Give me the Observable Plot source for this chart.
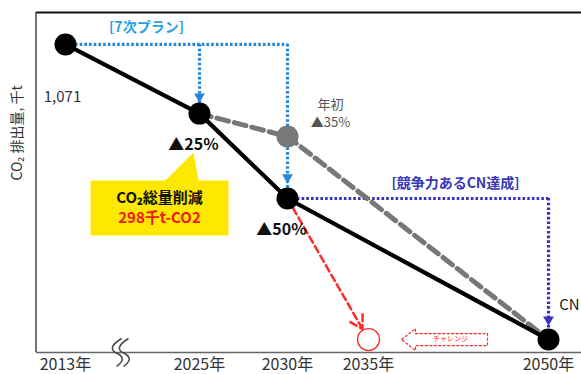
<!DOCTYPE html>
<html>
<head>
<meta charset="utf-8">
<script src="https://cdn.jsdelivr.net/npm/d3@7"></script>
<script src="https://cdn.jsdelivr.net/npm/@observablehq/plot@0.6"></script>
<style>
  html, body { margin: 0; padding: 0; background: #fff; }
  #chart svg { display: block; }
</style>
</head>
<body>
<div id="chart"></div>
<script>
// ---- data ----
const tickYears = [2013, 2025, 2030, 2035, 2050];
const tickLabels = ["2013年", "2025年", "2030年", "2035年", "2050年"];
const planYears = [2013, 2025, 2030, 2050];
const planValues = [1071, 820, 512, 0];          // 千t-CO2
const planLabels = ["1,071", "▲25%", "▲50%", "CN"];
const earlyYears = [2025, 2030, 2050];
const earlyValues = [820, 737, 0];               // 年初 path (▲35%)
const challengeYear = 2035;
const challengeValue = 0;
const yLabel = "CO₂ 排出量, 千t";
const calloutLines = ["CO₂総量削減", "298千t-CO2"];
const planBracket = "[7次プラン]";
const cnBracket = "[競争力あるCN達成]";
const challengeText = "チャレンジ";

// ---- helpers ----
const font = "'Noto Sans CJK JP', 'Noto Sans', sans-serif";
const plan = planYears.map((x, i) => ({x, y: planValues[i], label: planLabels[i]}));
const early = earlyYears.map((x, i) => ({x, y: earlyValues[i]}));
const p2013 = plan[0], p2025 = plan[1], p2030 = plan[2], p2050 = plan[3];
const gray2030 = early[1];
const yMin = -47, yMax = 1187;

const blue = "#2386d8", navy = "#3a32b8", red = "#ff2b2b", grayc = "#777777";
const dots = "2.6,2.1";

// callout symbol (yellow speech box), drawn relative to the 2025 point
const calloutSymbol = {
  draw(ctx) {
    ctx.moveTo(-109, 67);
    ctx.lineTo(-34, 67);
    ctx.lineTo(-6, 39);
    ctx.lineTo(-1, 67);
    ctx.lineTo(29, 67);
    ctx.lineTo(29, 122);
    ctx.lineTo(-109, 122);
    ctx.closePath();
  }
};
// left-pointing hollow arrow
const leftArrowSymbol = {
  draw(ctx) {
    ctx.moveTo(-43, 0);
    ctx.lineTo(-29, -11);
    ctx.lineTo(-29, -6);
    ctx.lineTo(43, -6);
    ctx.lineTo(43, 6);
    ctx.lineTo(-29, 6);
    ctx.lineTo(-29, 11);
    ctx.closePath();
  }
};
// axis break mark
const breakSymbol = {
  draw(ctx) {
    for (const o of [0, 7]) {
      ctx.moveTo(o + 4, -14);
      ctx.quadraticCurveTo(o - 12, -4, o, 1);
      ctx.quadraticCurveTo(o + 10, 6, o - 1, 14);
    }
  }
};

const leftLine = (index, scales, values, dims) => {
  const g = d3.create("svg:line")
    .attr("x1", dims.marginLeft).attr("x2", dims.marginLeft)
    .attr("y1", dims.marginTop).attr("y2", dims.height - dims.marginBottom)
    .attr("stroke", "#444").attr("stroke-width", 1.5);
  return g.node();
};

const chart = Plot.plot({
  width: 581,
  height: 374,
  marginLeft: 36,
  marginRight: 0,
  marginTop: 12,
  marginBottom: 22,
  style: {fontFamily: font, background: "#fff", color: "#333"},
  x: {type: "linear", domain: tickYears, range: [65, 199, 287, 368, 548]},
  y: {domain: [yMin, yMax], axis: null},
  marks: [
    // frame
    Plot.ruleY([yMax], {stroke: "#111", strokeWidth: 2}),
    Plot.ruleY([yMin], {stroke: "#666", strokeWidth: 1.5}),
    leftLine,
    Plot.axisX({ticks: tickYears, tickFormat: (d) => tickLabels[tickYears.indexOf(d)], tickSize: 0, tickPadding: 6, fontSize: 16, label: null}),
    Plot.dot([{x: tickYears[0], y: yMin}], {x: "x", y: "y", dx: 52, symbol: breakSymbol, r: 5, stroke: "#444", strokeWidth: 1.5, fill: "none"}),
    Plot.text([yLabel], {frameAnchor: "left", rotate: -90, dx: -19, dy: -2, fontSize: 14, fill: "#333"}),

    // [7次プラン] dotted guides
    Plot.line([p2013, {x: p2030.x, y: p2013.y}], {x: "x", y: "y", stroke: blue, strokeWidth: 3.2, strokeDasharray: dots, strokeLinecap: "butt"}),
    Plot.ruleX([p2025, p2030], {x: "x", y1: p2013.y, y2: "y", stroke: blue, strokeWidth: 3.2, strokeDasharray: dots}),
    Plot.dot([p2025], {x: "x", y: "y", dy: -17, symbol: "triangle", rotate: 180, r: 4, fill: blue}),
    Plot.dot([p2030], {x: "x", y: "y", dy: -21, symbol: "triangle", rotate: 180, r: 4, fill: blue}),
    Plot.text([p2013], {x: "x", y: "y", text: () => planBracket, dx: 81, dy: -17, fontSize: 14, fontWeight: "bold", fill: "#29a2e2"}),

    // [競争力あるCN達成] dotted guides
    Plot.line([p2030, {x: p2050.x, y: p2030.y}], {x: "x", y: "y", stroke: navy, strokeWidth: 3.2, strokeDasharray: dots, strokeLinecap: "butt"}),
    Plot.ruleX([p2050], {x: "x", y1: p2030.y, y2: "y", stroke: navy, strokeWidth: 3.2, strokeDasharray: dots}),
    Plot.dot([p2050], {x: "x", y: "y", dy: -20, symbol: "triangle", rotate: 180, r: 4, fill: navy}),
    Plot.text([p2030], {x: "x", y: "y", text: () => cnBracket, dx: 168, dy: -15, fontSize: 14, fontWeight: "bold", fill: "#3838b8"}),

    // 年初 gray dashed path
    Plot.line(early, {x: "x", y: "y", stroke: grayc, strokeWidth: 5, strokeDasharray: "12,6"}),
    Plot.dot([gray2030], {x: "x", y: "y", r: 11, fill: "#787878"}),
    Plot.text([gray2030], {x: "x", y: "y", text: () => "年初", dx: 43, dy: -32, fontSize: 13, fill: "#555"}),
    Plot.text([gray2030], {x: "x", y: "y", text: () => "▲35%", dx: 43, dy: -14, fontSize: 13, fill: "#555"}),

    // main plan line
    Plot.line(plan, {x: "x", y: "y", stroke: "#000", strokeWidth: 4.2}),

    // challenge (red)
    Plot.arrow([{x1: p2030.x, y1: p2030.y, x2: challengeYear, y2: challengeValue}], {x1: "x1", y1: "y1", x2: "x2", y2: "y2", stroke: red, strokeWidth: 2.5, strokeDasharray: "7,4", insetEnd: 12, headLength: 9}),
    Plot.dot([{x: challengeYear, y: challengeValue}], {x: "x", y: "y", r: 11, stroke: red, strokeWidth: 1.3, fill: "#fff"}),
    Plot.dot([{x: challengeYear, y: challengeValue}], {x: "x", y: "y", dx: 76, symbol: leftArrowSymbol, r: 5, stroke: red, strokeWidth: 1.2, strokeDasharray: "3,1.5", fill: "#fff"}),
    Plot.text([{x: challengeYear, y: challengeValue}], {x: "x", y: "y", text: () => challengeText, dx: 82, dy: -1, fontSize: 7, fill: red}),

    Plot.dot(plan, {x: "x", y: "y", r: 11, fill: "#000"}),

    // point labels
    Plot.text([p2013], {x: "x", y: "y", text: "label", dx: -3, dy: 53, fontSize: 15, fill: "#333"}),
    Plot.text([p2025, p2030], {x: "x", y: "y", text: "label", dx: -6, dy: 31, fontSize: 16, fontWeight: "bold", fill: "#111"}),
    Plot.text([p2050], {x: "x", y: "y", text: "label", dx: 21, dy: -34, fontSize: 15, fill: "#222"}),

    // callout
    Plot.dot([p2025], {x: "x", y: "y", symbol: calloutSymbol, r: 5, fill: "#ffe800", stroke: "none"}),
    Plot.text([p2025], {x: "x", y: "y", text: () => calloutLines[0], dx: -40, dy: 85, fontSize: 15, fontWeight: "bold", fill: "#111"}),
    Plot.text([p2025], {x: "x", y: "y", text: () => calloutLines[1], dx: -40, dy: 105, fontSize: 15, fontWeight: "bold", fill: "#f01818"})
  ]
});
document.getElementById("chart").append(chart);
</script>
</body>
</html>
